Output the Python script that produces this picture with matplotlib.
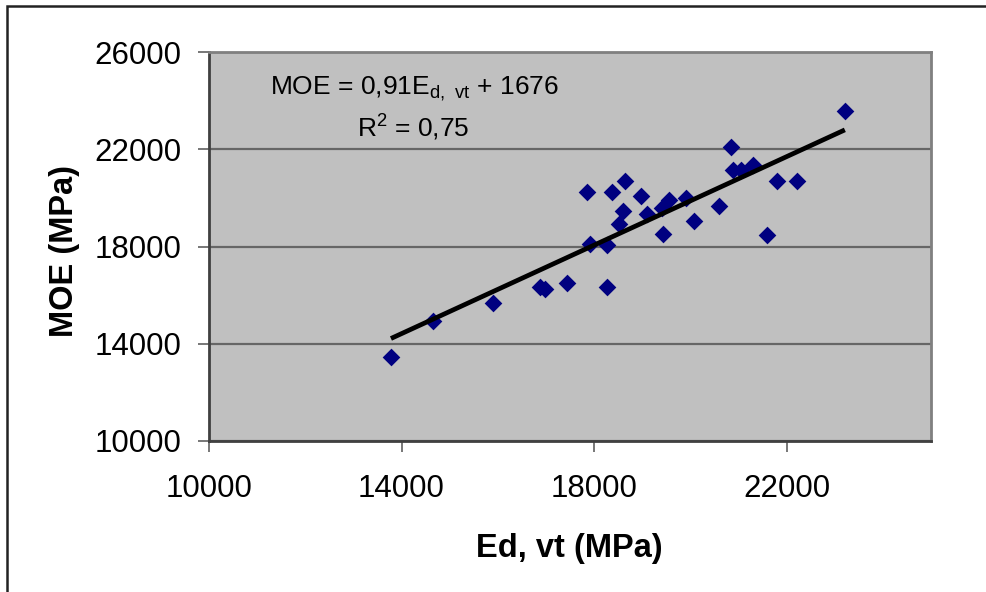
import numpy as np
import matplotlib
matplotlib.use('Agg')
import matplotlib.pyplot as plt
from matplotlib.patches import Rectangle

plt.rcParams['font.family'] = ['Liberation Sans', 'DejaVu Sans']
plt.rcParams['mathtext.default'] = 'regular'

# Ed,vt (MPa) vs MOE (MPa)
ed_vt = [13780, 14650, 15890, 16880, 16980, 17430, 18260, 17920, 18260, 17850,
         18380, 18640, 18970, 18600, 19090, 18510, 19550, 19410, 19910, 19430,
         20080, 23210, 20840, 20880, 21050, 21300, 21800, 22210, 21590, 20600]
moe = [13470, 14950, 15690, 16350, 16250, 16510, 16350, 18100, 18060, 20230,
       20230, 20710, 20080, 19470, 19340, 18910, 19910, 19570, 20010, 18500,
       19050, 23590, 22100, 21150, 21150, 21350, 20710, 20710, 18470, 19660]

# trend line from the equation shown on the chart
slope = 0.91
intercept = 1676

x_ticks = [10000, 14000, 18000, 22000]
y_ticks = [10000, 14000, 18000, 22000, 26000]

W, H = 987, 592
fig = plt.figure(figsize=(W / 100, H / 100), dpi=100)
ax = fig.add_axes([209 / W, 1 - 441 / H, (931 - 209) / W, (441 - 52) / H])
ax.set_facecolor('#c0c0c0')

ax.set_xlim(10000, 25000)
ax.set_ylim(10000, 26000)
ax.set_xticks(x_ticks)
ax.set_yticks(y_ticks)

ax.grid(axis='y', color='#666666', linewidth=1.6, zorder=1)
ax.set_axisbelow(True)

ax.scatter(ed_vt, moe, marker='D', s=9.0 ** 2, color='#000080', zorder=3, linewidths=0)

xl = np.array([min(ed_vt), max(ed_vt)])
ax.plot(xl, slope * xl + intercept, color='black', linewidth=3.4, zorder=4,
        solid_capstyle='butt')

for side in ['top', 'right']:
    ax.spines[side].set_color('#808080')
    ax.spines[side].set_linewidth(2)
for side in ['left', 'bottom']:
    ax.spines[side].set_color('#404040')
    ax.spines[side].set_linewidth(2)

ax.tick_params(axis='both', direction='out', length=8, width=1.2, color='#606060',
               labelsize=22.5)
ax.tick_params(axis='y', pad=12)
ax.tick_params(axis='x', pad=16)

fig.text(65 / W, 1 - 251 / H, 'MOE (MPa)', rotation=90, ha='center', va='center',
         fontsize=23.5, fontweight='bold')
fig.text(569 / W, 1 - 548 / H, 'Ed, vt (MPa)', ha='center', va='center',
         fontsize=23.5, fontweight='bold')

fig.text(414 / W, 1 - 94 / H, r'MOE = 0,91E$_{d,\ vt}$ + 1676', ha='center',
         va='baseline', fontsize=19)
fig.text(413 / W, 1 - 137 / H, r'R$^2$ = 0,75', ha='center', va='baseline', fontsize=19)

# chart area border
fig.patches.append(Rectangle((7 / W, -0.1), 1.2, 1.1 - 6 / H, transform=fig.transFigure,
                             fill=False, edgecolor='#222222', linewidth=1.8))

fig.savefig('out.png', dpi=100)
